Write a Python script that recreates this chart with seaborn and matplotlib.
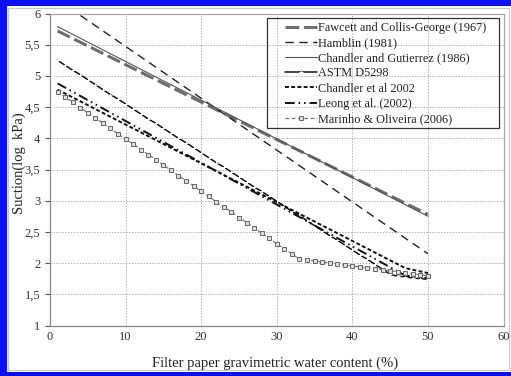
import numpy as np
import pandas as pd
import matplotlib
matplotlib.use("Agg")
import matplotlib.pyplot as plt
from matplotlib.patches import Rectangle
import seaborn as sns

sns.set_style("white")
plt.rcParams['font.family'] = ['Liberation Serif', 'DejaVu Serif']

# ---- data ----
labels = ["Fawcett and Collis-George (1967)", "Hamblin (1981)",
          "Chandler and Gutierrez (1986)", "ASTM D5298", "Chandler et al 2002",
          "Leong et al. (2002)", "Marinho & Oliveira (2006)"]

fawcett_x = [1, 50]
fawcett_y = [5.72, 2.78]

hamblin_x = [1, 50]
hamblin_y = [6.22, 2.15]

chandler86_x = [1, 50]
chandler86_y = [5.79, 2.75]

astm_x = list(range(1, 51))
astm_y = [5.25, 5.17, 5.09, 5.02, 4.94, 4.86, 4.78, 4.70, 4.63, 4.55,
          4.47, 4.39, 4.31, 4.24, 4.16, 4.08, 4.00, 3.93, 3.85, 3.77,
          3.69, 3.61, 3.54, 3.46, 3.38, 3.30, 3.22, 3.15, 3.07, 2.99,
          2.91, 2.83, 2.76, 2.68, 2.60, 2.52, 2.44, 2.37, 2.29, 2.21,
          2.13, 2.06, 1.98, 1.90, 1.82, 1.79, 1.78, 1.76, 1.75, 1.74]

chandler02_x = [1, 47, 50]
chandler02_y = [4.78, 1.92, 1.84]

leong_x = [1, 47, 50]
leong_y = [4.88, 1.80, 1.76]

marinho_x = list(range(1, 51))
marinho_y = [4.75, 4.66, 4.58, 4.49, 4.41, 4.33, 4.24, 4.16, 4.07, 3.99,
             3.91, 3.82, 3.74, 3.66, 3.57, 3.49, 3.40, 3.32, 3.24, 3.15,
             3.07, 2.98, 2.90, 2.82, 2.73, 2.65, 2.57, 2.48, 2.40, 2.31,
             2.23, 2.15, 2.06, 2.05, 2.03, 2.02, 2.00, 1.98, 1.97, 1.95,
             1.94, 1.92, 1.91, 1.89, 1.88, 1.86, 1.84, 1.83, 1.81, 1.80]

x_ticks = [0, 10, 20, 30, 40, 50, 60]
y_ticks = [1, 1.5, 2, 2.5, 3, 3.5, 4, 4.5, 5, 5.5, 6]
y_ticklabels = ["1", "1,5", "2", "2,5", "3", "3,5", "4", "4,5", "5", "5,5", "6"]

# ---- figure ----
W, H = 511, 376
fig = plt.figure(figsize=(W/100, H/100), dpi=100)
ax = fig.add_axes([50/W, 1-325.5/H, 453.5/W, 312/H])

series = [
    (fawcett_x, fawcett_y, dict(color="#6e6e6e", lw=2.2), (4.5, 1.6)),
    (hamblin_x, hamblin_y, dict(color="#222222", lw=1.0), (6, 4)),
    (chandler86_x, chandler86_y, dict(color="#555555", lw=0.8), None),
    (astm_x, astm_y, dict(color="#111111", lw=1.1, marker="+", markersize=3,
                          markeredgewidth=0.7), None),
    (chandler02_x, chandler02_y, dict(color="#111111", lw=1.4), (2.0, 1.2)),
    (leong_x, leong_y, dict(color="#111111", lw=1.4), (5, 2, 0.8, 2, 0.8, 2)),
    (marinho_x, marinho_y, dict(color="#777777", lw=0.9, marker="s", markersize=3.0,
                                markerfacecolor="#dddddd", markeredgecolor="#666666",
                                markeredgewidth=0.7), (3, 2)),
]

for (xs, ys, kw, dash), lab in zip(series, labels):
    df = pd.DataFrame({"x": xs, "y": ys})
    n_before = len(ax.lines)
    sns.lineplot(data=df, x="x", y="y", ax=ax, label=lab, sort=False,
                 estimator=None, **kw)
    line = ax.lines[n_before]
    if dash is not None:
        line.set_dashes(dash)
    else:
        line.set_linestyle("-")

ax.set_xlim(0, 60)
ax.set_ylim(1, 6)
ax.set_xticks(x_ticks)
ax.set_yticks(y_ticks)
ax.set_yticklabels(y_ticklabels)
ax.tick_params(axis="both", labelsize=9, colors="#555555", width=0.8,
               direction="out", left=True, bottom=True)
ax.tick_params(axis="y", length=3.6, pad=3.4)
ax.tick_params(axis="x", length=0, pad=4)
for lbl in ax.get_xticklabels() + ax.get_yticklabels():
    lbl.set_color("#333333")

ax.grid(True, color="#b0b0b0", linestyle=(0, (1.5, 1.5)), linewidth=0.7)
for sp in ax.spines.values():
    sp.set_color("#aaaaaa")
    sp.set_linewidth(0.9)
ax.spines["left"].set_color("#888888")
ax.spines["bottom"].set_color("#888888")

ax.set_xlabel("Filter paper gravimetric water content (%)", fontsize=10.5,
              color="#222222")
ax.xaxis.set_label_coords(0.497, -31/312)
ax.set_ylabel("Suction(log  kPa)", fontsize=10.5, color="#222222")
ax.yaxis.set_label_coords(-24/453.5, 0.52)

handles, labs = ax.get_legend_handles_labels()
leg = ax.legend(handles, labs, loc="upper left",
                bbox_to_anchor=(283/W, 1-19.5/H), bbox_transform=fig.transFigure,
                fontsize=8.8, frameon=False,
                handlelength=2.55, handletextpad=0.1, borderpad=0.2,
                labelspacing=0.26, borderaxespad=0.0)
for t in leg.get_texts():
    t.set_color("#222222")
# legend frame
fig.patches.append(Rectangle((267/W, 1-128/H), 232/W, 110/H, transform=fig.transFigure,
                             fill=False, edgecolor="#333333", linewidth=0.9, zorder=10))

# chart frame and blue border
fig.patches.append(Rectangle((8/W, 6/H), 501/W, 362/H, transform=fig.transFigure,
                             fill=False, edgecolor="#c8c8c8", linewidth=0.8))
blue = "#0a10f0"
fig.patches.append(Rectangle((0, 0), 7/W, 1, transform=fig.transFigure,
                             facecolor=blue, edgecolor="none"))
fig.patches.append(Rectangle((0, 1-6/H), 1, 6/H, transform=fig.transFigure,
                             facecolor=blue, edgecolor="none"))
fig.patches.append(Rectangle((0, 0), 1, 4.5/H, transform=fig.transFigure,
                             facecolor=blue, edgecolor="none"))

fig.savefig("out.png", dpi=100)
